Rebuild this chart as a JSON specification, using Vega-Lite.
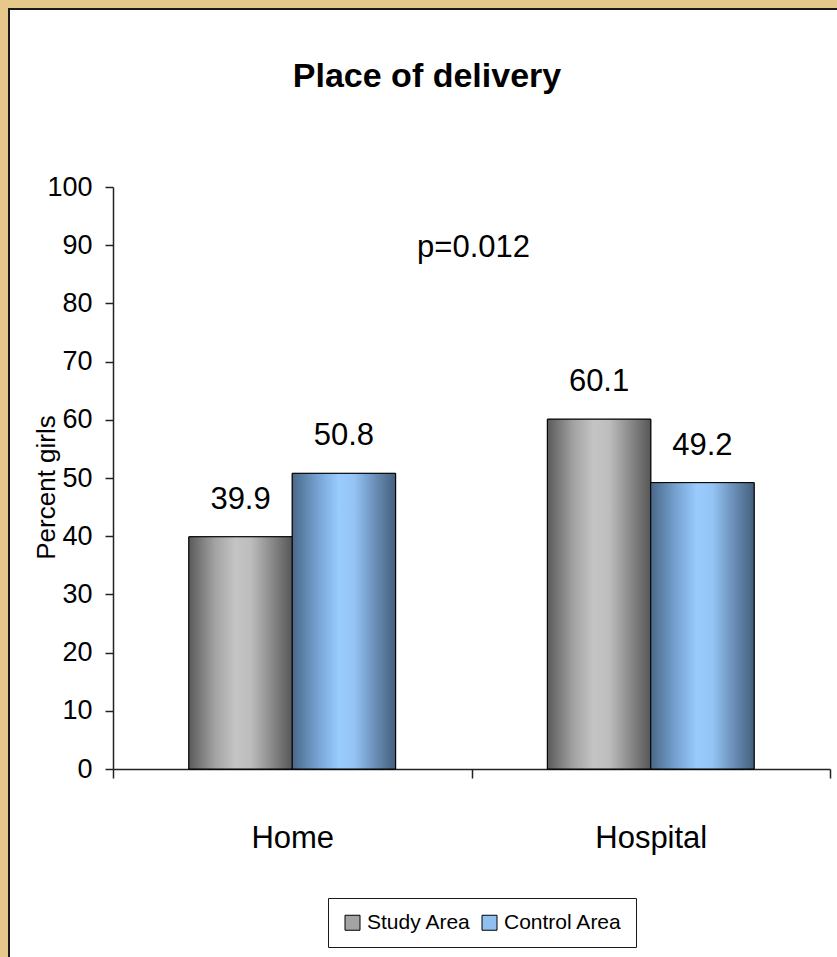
{
  "$schema": "https://vega.github.io/schema/vega-lite/v6.json",
  "width": 830,
  "height": 950,
  "autosize": "none",
  "padding": {"left": 9, "top": 9, "right": 0, "bottom": 0},
  "background": "#e6c88a",
  "view": {"fill": "white", "stroke": "#1a1a1a", "strokeWidth": 2},
  "title": {
    "text": "Place of delivery",
    "font": "Liberation Sans, Arial, sans-serif",
    "fontSize": 34,
    "fontWeight": "bold",
    "color": "black",
    "anchor": "middle",
    "frame": "group",
    "baseline": "alphabetic",
    "offset": -112,
    "dx": 3
  },
  "datasets": {
    "delivery": [
      {"place": "Home", "area": "Study Area", "pct": 39.9},
      {"place": "Home", "area": "Control Area", "pct": 50.8},
      {"place": "Hospital", "area": "Study Area", "pct": 60.1},
      {"place": "Hospital", "area": "Control Area", "pct": 49.2}
    ],
    "note": [
      {"place": "Hospital", "pct": 88, "label": "p=0.012"}
    ]
  },
  "encoding": {
    "x": {
      "field": "place",
      "type": "nominal",
      "scale": {"type": "band", "domain": ["Home", "Hospital"], "range": [104, 821], "paddingInner": 0, "paddingOuter": 0},
      "axis": {
        "title": null,
        "offset": -190,
        "domainColor": "#222",
        "domainWidth": 1.5,
        "tickColor": "#222",
        "tickWidth": 1.5,
        "tickSize": 9,
        "tickBand": "extent",
        "labelFont": "Liberation Sans, Arial, sans-serif",
        "labelFontSize": 31,
        "labelColor": "black",
        "labelAngle": 0,
        "labelBaseline": "alphabetic",
        "labelPadding": 69
      }
    },
    "y": {
      "field": "pct",
      "type": "quantitative",
      "stack": null,
      "scale": {"domain": [0, 100], "range": [760, 178], "nice": false, "zero": true},
      "axis": {
        "title": "Percent girls",
        "offset": -104,
        "values": [0, 10, 20, 30, 40, 50, 60, 70, 80, 90, 100],
        "grid": false,
        "domainColor": "#222",
        "domainWidth": 1.5,
        "tickColor": "#222",
        "tickWidth": 1.5,
        "tickSize": 8,
        "labelFont": "Liberation Sans, Arial, sans-serif",
        "labelFontSize": 27,
        "labelColor": "black",
        "labelPadding": 13,
        "titleFont": "Liberation Sans, Arial, sans-serif",
        "titleFontSize": 26,
        "titleFontWeight": "normal",
        "titleColor": "black",
        "titleAngle": -90,
        "titleBaseline": "alphabetic",
        "titleX": -59,
        "titleY": 478
      }
    }
  },
  "layer": [
    {
      "data": {"name": "delivery"},
      "mark": {"type": "bar", "stroke": "black", "strokeWidth": 1},
      "encoding": {
        "xOffset": {"field": "area", "type": "nominal", "scale": {"domain": ["Study Area", "Control Area"], "paddingInner": 0, "paddingOuter": 0.734}},
        "fill": {
          "field": "area",
          "type": "nominal",
          "scale": {"domain": ["Study Area", "Control Area"], "range": ["#a4a4a4", "#8fc0f0"]},
          "legend": {
            "title": null,
            "orient": "none",
            "legendX": 319,
            "legendY": 889,
            "direction": "horizontal",
            "fillColor": "white",
            "strokeColor": "#1a1a1a",
            "padding": 14,
            "columnPadding": 8,
            "symbolType": "square",
            "symbolSize": 225,
            "symbolStrokeColor": "black",
            "symbolStrokeWidth": 1,
            "symbolOpacity": 1,
            "labelFont": "Liberation Sans, Arial, sans-serif",
            "labelFontSize": 21,
            "labelColor": "black",
            "labelOffset": 4
          }
        }
      }
    },
    {
      "data": {"name": "delivery"},
      "mark": {"type": "bar", "stroke": "black", "strokeWidth": 1},
      "encoding": {
        "xOffset": {"field": "area", "type": "nominal", "scale": {"domain": ["Study Area", "Control Area"], "paddingInner": 0, "paddingOuter": 0.734}},
        "fill": {
          "condition": {
            "test": "datum.area === 'Study Area'",
            "value": {
              "gradient": "linear", "x1": 0, "y1": 0, "x2": 1, "y2": 0,
              "stops": [
                {"offset": 0, "color": "#5a5a5a"},
                {"offset": 0.25, "color": "#a2a2a2"},
                {"offset": 0.45, "color": "#c4c4c4"},
                {"offset": 0.6, "color": "#bdbdbd"},
                {"offset": 0.8, "color": "#8a8a8a"},
                {"offset": 1, "color": "#575757"}
              ]
            }
          },
          "value": {
            "gradient": "linear", "x1": 0, "y1": 0, "x2": 1, "y2": 0,
            "stops": [
              {"offset": 0, "color": "#4a6888"},
              {"offset": 0.25, "color": "#77a3d3"},
              {"offset": 0.45, "color": "#99ccff"},
              {"offset": 0.6, "color": "#94c4f4"},
              {"offset": 0.8, "color": "#6a8fb8"},
              {"offset": 1, "color": "#445f7c"}
            ]
          }
        }
      }
    },
    {
      "data": {"name": "delivery"},
      "mark": {
        "type": "text",
        "font": "Liberation Sans, Arial, sans-serif",
        "fontSize": 31,
        "color": "black",
        "align": "center",
        "baseline": "alphabetic",
        "dy": -28
      },
      "encoding": {
        "xOffset": {"field": "area", "type": "nominal", "scale": {"domain": ["Study Area", "Control Area"], "paddingInner": 0, "paddingOuter": 0.734}},
        "text": {"field": "pct", "type": "quantitative", "format": ".1f"}
      }
    },
    {
      "data": {"name": "note"},
      "mark": {
        "type": "text",
        "font": "Liberation Sans, Arial, sans-serif",
        "fontSize": 31,
        "color": "black",
        "align": "center",
        "baseline": "alphabetic",
        "dx": 2
      },
      "encoding": {
        "x": {"field": "place", "type": "nominal", "bandPosition": 0},
        "text": {"field": "label", "type": "nominal"}
      }
    }
  ]
}
